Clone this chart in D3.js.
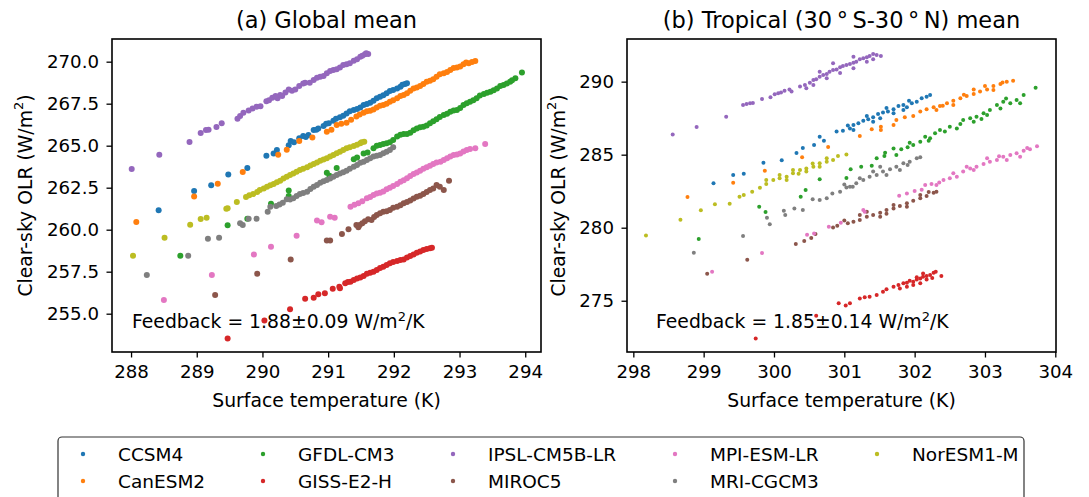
<!DOCTYPE html>
<html><head><meta charset="utf-8">
<script src="https://cdn.jsdelivr.net/npm/d3@7"></script>
<style>
body{margin:0;background:#fff}
svg{display:block}
text{font-family:"DejaVu Sans",sans-serif;fill:#000}
</style>
</head><body>
<svg id="c" width="1089" height="497"></svg>
<script>
// ---------------- DATA ----------------
const models = ["CCSM4","CanESM2","GFDL-CM3","GISS-E2-H","IPSL-CM5B-LR","MIROC5","MPI-ESM-LR","MRI-CGCM3","NorESM1-M"];
const modelColors = ["#1f77b4","#ff7f0e","#2ca02c","#d62728","#9467bd","#8c564b","#e377c2","#7f7f7f","#bcbd22"];

// (a) Global mean: [surface temperature K, clear-sky OLR W/m2]
const glb_CCSM4 = [[288.42,261.15],[288.96,262.30],[289.22,262.64],[289.48,263.29],[289.77,263.67],[290.06,264.40],[290.17,264.54],[290.22,264.74],[290.40,265.02],[290.43,265.28],[290.56,265.44],[290.62,265.58],[290.70,265.63],[290.78,265.93],[290.85,266.03],[290.93,266.17],[291.01,266.33],[291.08,266.49],[291.18,266.69],[291.28,266.92],[291.39,267.12],[291.49,267.28],[291.59,267.48],[291.69,267.68],[291.79,267.92],[291.89,268.12],[291.99,268.31],[292.10,268.51],[292.17,268.67],[292.20,268.71],
 [290.48,265.20],[290.66,265.52],[290.82,265.95],[290.97,266.30],[291.12,266.60],[291.23,266.78],[291.33,267.05],[291.44,267.18],[291.54,267.42],[291.64,267.55],[291.74,267.82],[291.84,268.00],[291.94,268.25],[292.05,268.40],[292.13,268.62]];
const glb_CanESM2 = [[288.08,260.46],[288.96,261.98],[289.32,262.74],[289.70,263.43],[290.24,264.46],[290.37,264.76],[290.56,265.28],[290.76,265.48],[290.98,265.83],[291.13,266.23],[291.28,266.37],[291.43,266.73],[291.54,266.96],[291.64,267.08],[291.74,267.28],[291.84,267.42],[291.94,267.62],[292.05,267.82],[292.15,268.02],[292.25,268.27],[292.35,268.47],[292.45,268.67],[292.55,268.87],[292.65,269.11],[292.76,269.31],[292.86,269.50],[292.96,269.66],[293.06,269.84],[293.14,269.90],[293.24,270.04],
 [291.05,265.95],[291.20,266.30],[291.35,266.55],[291.48,266.85],[291.59,267.05],[291.69,267.15],[291.79,267.38],[291.89,267.50],[291.99,267.70],[292.10,267.95],[292.20,268.12],[292.30,268.40],[292.40,268.55],[292.50,268.80],[292.60,268.95],[292.70,269.25],[292.81,269.38],[292.91,269.62],[293.01,269.72],[293.10,269.95],[293.19,269.98]];
const glb_GFDL = [[288.75,258.45],[289.47,260.26],[289.77,260.65],[290.13,261.55],[290.40,262.34],[290.40,262.00],[290.98,263.39],[291.02,263.21],[291.13,263.67],[291.39,264.19],[291.44,264.29],[291.54,264.54],[291.69,264.84],[291.79,265.04],[291.89,265.14],[291.99,265.34],[292.05,265.54],[292.15,265.69],[292.25,265.77],[292.35,266.03],[292.45,266.13],[292.55,266.33],[292.65,266.57],[292.76,266.83],[292.86,267.02],[292.96,267.12],[293.06,267.42],[293.16,267.62],[293.26,267.82],[293.37,268.08],[293.47,268.21],[293.57,268.41],[293.67,268.61],[293.77,268.81],[293.85,269.01],[293.95,269.35],
 [291.60,264.60],[291.74,265.00],[291.84,265.10],[291.94,265.20],[292.10,265.65],[292.20,265.70],[292.30,265.92],[292.40,266.10],[292.50,266.20],[292.60,266.45],[292.70,266.70],[292.81,266.90],[292.91,267.10],[293.01,267.25],[293.11,267.52],[293.21,267.70],[293.31,267.98],[293.42,268.15],[293.52,268.30],[293.62,268.55],[293.72,268.70],[293.80,268.90]];
const glb_GISS = [[289.47,253.53],[290.03,254.60],[290.42,255.26],[290.65,255.89],[290.78,255.95],[290.85,256.15],[290.95,256.21],[291.07,256.49],[291.17,256.61],[291.18,256.51],[291.26,256.81],[291.34,256.90],[291.44,257.10],[291.54,257.24],[291.64,257.44],[291.74,257.60],[291.84,257.80],[291.94,258.00],[292.05,258.13],[292.15,258.23],[292.25,258.43],[292.35,258.63],[292.45,258.79],[292.55,258.89],
 [291.49,257.15],[291.59,257.38],[291.69,257.50],[291.79,257.72],[291.89,257.90],[291.99,258.08],[292.10,258.20],[292.20,258.35],[292.30,258.52],[292.40,258.70],[292.50,258.85],[292.58,258.92],[291.39,257.00],[291.30,256.88]];
const glb_IPSL = [[288.01,263.61],[288.43,264.46],[288.89,265.22],[289.06,265.75],[289.14,265.93],[289.18,265.95],[289.30,266.11],[289.38,266.33],[289.62,266.61],[289.66,266.77],[289.71,266.96],[289.79,267.10],[289.85,267.22],[289.91,267.32],[289.97,267.34],[290.06,267.64],[290.15,267.86],[290.23,267.82],[290.27,268.02],[290.35,268.17],[290.45,268.27],[290.56,268.55],[290.65,268.75],[290.78,268.91],[290.88,269.11],[290.98,269.31],[291.08,269.50],[291.18,269.66],[291.28,269.84],[291.39,270.06],[291.49,270.30],[291.56,270.44],[291.61,270.46],
 [290.30,267.95],[290.40,268.35],[290.50,268.35],[290.62,268.70],[290.72,268.75],[290.83,269.05],[290.93,269.15],[291.03,269.45],[291.13,269.55],[291.23,269.80],[291.33,269.90],[291.44,270.15],[291.52,270.35],[291.58,270.50],[290.10,267.70],[290.20,267.95]];
const glb_MIROC5 = [[289.28,256.11],[289.92,257.38],[290.43,258.23],[290.98,259.35],[291.03,259.35],[291.21,259.74],[291.31,260.02],[291.43,260.28],[291.48,260.28],[291.46,260.14],[291.61,260.62],[291.66,260.58],[291.74,260.87],[291.84,261.07],[291.94,261.17],[292.05,261.37],[292.15,261.57],[292.25,261.73],[292.35,261.96],[292.45,262.12],[292.55,262.36],[292.65,262.66],[292.76,262.36],[292.84,262.92],
 [291.70,260.75],[291.79,260.98],[291.89,261.10],[291.99,261.30],[292.10,261.45],[292.20,261.65],[292.30,261.85],[292.40,262.02],[292.50,262.25],[292.60,262.45],[292.70,262.55],[291.56,260.50],[291.52,260.38]];
const glb_MPI = [[288.50,255.81],[289.23,257.30],[289.87,258.53],[290.13,258.99],[290.52,259.64],[290.83,260.54],[290.90,260.44],[291.03,260.77],[291.10,260.71],[291.34,261.37],[291.46,261.57],[291.59,261.87],[291.69,262.06],[291.79,262.20],[291.89,262.40],[291.99,262.60],[292.10,262.86],[292.20,263.06],[292.30,263.31],[292.40,263.51],[292.50,263.71],[292.60,263.91],[292.71,264.05],[292.81,264.25],[292.91,264.44],[293.01,264.54],[293.11,264.74],[293.24,264.84],[293.39,265.10],
 [291.40,261.48],[291.52,261.70],[291.64,261.95],[291.74,262.15],[291.84,262.28],[291.94,262.50],[292.05,262.72],[292.15,262.95],[292.25,263.20],[292.35,263.40],[292.45,263.62],[292.55,263.80],[292.65,264.00],[292.76,264.15],[292.86,264.35],[292.96,264.48],[293.06,264.65],[293.16,264.80]];
const glb_MRI = [[288.24,257.30],[288.87,258.45],[289.17,259.46],[289.34,259.52],[289.66,260.38],[289.70,260.28],[289.79,260.65],[289.91,260.65],[290.08,261.07],[290.12,261.37],[290.21,261.41],[290.31,261.61],[290.37,261.81],[290.47,261.87],[290.57,262.12],[290.68,262.26],[290.78,262.56],[290.88,262.80],[290.98,262.96],[291.08,263.15],[291.18,263.35],[291.28,263.51],[291.39,263.75],[291.49,263.99],[291.59,264.15],[291.69,264.35],[291.79,264.44],[291.89,264.64],[291.99,264.90],
 [290.52,262.00],[290.62,262.18],[290.73,262.42],[290.83,262.66],[290.93,262.88],[291.03,263.05],[291.13,263.25],[291.23,263.42],[291.33,263.62],[291.44,263.85],[291.54,264.05],[291.64,264.25],[291.74,264.40],[291.84,264.55],[291.94,264.75],[290.42,261.80],[290.26,261.50]];
const glb_NorESM = [[288.03,258.45],[288.51,259.52],[288.90,260.30],[289.06,260.63],[289.15,260.71],[289.45,261.25],[289.47,261.27],[289.61,261.65],[289.75,261.94],[289.86,262.12],[289.96,262.36],[290.07,262.56],[290.17,262.72],[290.27,262.92],[290.37,263.15],[290.47,263.35],[290.57,263.55],[290.68,263.71],[290.78,263.91],[290.88,264.11],[290.98,264.25],[291.08,264.44],[291.18,264.64],[291.28,264.84],[291.39,264.98],[291.49,265.14],[291.55,265.24],
 [290.02,262.45],[290.12,262.65],[290.22,262.82],[290.32,263.05],[290.42,263.25],[290.52,263.45],[290.62,263.62],[290.73,263.82],[290.83,264.00],[290.93,264.18],[291.03,264.35],[291.13,264.55],[291.23,264.75],[291.33,264.90],[291.44,265.05],[291.51,265.20],[289.92,262.25],[289.80,262.05]];

// (b) Tropical (30S-30N) mean
const trp_CCSM4 = [[299.14,283.04],[299.42,283.61],[299.57,283.70],[299.85,284.45],[300.11,284.61],[300.32,285.11],[300.41,285.46],[300.57,285.66],[300.65,286.23],[300.71,285.96],[300.89,286.58],[300.98,286.64],[301.08,286.80],[301.13,287.03],[301.20,287.15],[301.27,287.33],[301.34,287.42],[301.41,287.56],[301.48,287.79],[301.55,287.88],[301.62,287.95],[301.70,288.11],[301.77,288.33],[301.84,288.40],[301.89,288.24],[301.96,288.52],[302.03,288.63],[302.10,288.86],[302.17,288.97],[302.22,289.09],
 [301.13,286.69],[301.32,287.65],[301.51,287.49],[301.70,287.83],[301.41,287.26],[301.84,288.06],[301.05,287.00],[301.60,288.20],[301.92,288.70]];
const trp_CanESM2 = [[298.77,282.10],[299.42,283.08],[299.87,283.90],[300.40,284.82],[300.77,285.53],[301.22,286.28],[301.39,286.74],[301.52,286.92],[301.52,286.69],[301.70,287.03],[301.74,287.37],[301.86,287.56],[301.98,287.65],[302.08,287.95],[302.17,288.11],[302.27,288.24],[302.36,288.33],[302.46,288.52],[302.55,288.70],[302.65,288.86],[302.74,289.02],[302.84,289.16],[302.93,289.32],[303.03,289.47],[303.12,289.70],[303.22,289.84],[303.31,290.00],[303.40,290.07],
 [302.55,288.40],[302.84,289.47],[303.12,289.43],[302.31,288.06],[302.70,289.10],[303.00,289.70],[303.25,289.95],[302.40,288.35]];
const trp_GFDL = [[298.93,279.22],[299.79,281.44],[299.88,281.07],[300.38,282.12],[300.45,282.58],[300.65,283.31],[301.03,283.40],[301.09,284.00],[301.24,284.18],[301.39,284.25],[301.46,284.75],[301.57,284.91],[301.58,285.14],[301.70,285.43],[301.74,284.98],[301.81,285.37],[301.93,285.82],[301.98,285.66],[302.08,285.89],[302.15,286.23],[302.22,286.12],[302.29,286.46],[302.36,286.69],[302.43,286.58],[302.50,286.92],[302.60,286.80],[302.69,287.37],[302.79,287.49],[302.88,287.60],[302.98,287.83],[303.07,288.06],[303.17,288.40],[303.26,288.63],[303.36,288.52],[303.45,288.74],[303.55,289.09],[303.72,289.59],
 [303.03,287.72],[303.22,288.17],[302.84,287.26],[303.50,288.52],[302.65,287.10],[302.95,287.45],[303.30,288.85],[301.90,285.50],[302.20,285.95]];
const trp_GISS = [[299.74,272.42],[300.60,273.97],[300.92,274.82],[301.02,274.68],[301.08,274.82],[301.22,275.16],[301.29,275.23],[301.36,275.27],[301.46,275.39],[301.55,275.62],[301.60,275.78],[301.70,275.96],[301.77,276.07],[301.84,276.19],[301.89,276.23],[301.93,276.37],[301.98,276.30],[302.03,276.46],[302.08,276.53],[302.12,276.64],[302.17,276.69],[302.22,276.76],[302.27,276.92],[302.30,276.99],[302.38,276.69],
 [301.89,275.96],[301.98,276.07],[302.08,276.19],[302.17,276.46],[301.79,275.84],[302.12,276.87],[302.03,276.60],[302.25,276.55]];
const trp_IPSL = [[298.56,286.39],[298.90,286.89],[299.32,287.60],[299.56,288.40],[299.61,288.47],[299.66,288.52],[299.70,288.54],[299.83,288.81],[299.95,288.93],[300.01,289.13],[300.06,289.20],[300.10,289.25],[300.15,289.38],[300.22,289.47],[300.25,289.32],[300.37,289.66],[300.44,289.77],[300.46,289.54],[300.51,289.93],[300.56,290.11],[300.60,290.16],[300.65,290.34],[300.70,290.46],[300.75,290.53],[300.79,290.68],[300.84,290.80],[300.89,290.84],[300.94,290.98],[300.98,291.07],[301.03,291.14],[301.08,291.21],[301.13,291.30],[301.17,291.37],[301.22,291.53],[301.27,291.60],[301.32,291.67],[301.36,291.76],[301.41,291.89],[301.46,291.83],[301.52,291.76],
 [300.65,290.68],[300.75,290.23],[300.94,290.59],[301.13,290.91],[301.32,291.37],[300.56,289.77],[300.84,291.26],[301.13,291.71],[301.41,291.53]];
const trp_MIROC5 = [[299.05,276.85],[299.62,277.81],[300.31,278.88],[300.43,279.09],[300.53,279.29],[300.59,279.57],[300.84,280.02],[300.90,280.14],[301.05,280.30],[301.13,280.41],[301.22,280.53],[301.32,280.75],[301.41,280.87],[301.51,281.03],[301.60,281.21],[301.70,281.32],[301.79,281.48],[301.89,281.67],[301.98,281.85],[302.08,282.01],[302.17,282.17],[302.27,282.40],[302.31,282.47],
 [301.32,281.10],[301.51,280.75],[301.70,281.55],[301.89,281.44],[302.08,282.24],[301.22,280.87],[301.00,280.50],[301.60,280.95],[302.20,282.45]];
const trp_MPI = [[299.12,276.99],[299.83,278.26],[300.47,279.52],[300.57,279.61],[300.78,280.07],[300.95,280.34],[301.29,281.10],[301.78,282.19],[301.89,282.35],[302.00,282.51],[302.15,282.92],[302.24,282.99],[302.31,282.92],[302.41,283.26],[302.50,283.38],[302.60,283.49],[302.69,283.84],[302.79,284.06],[302.88,284.18],[302.98,284.36],[303.07,284.52],[303.17,284.63],[303.26,284.86],[303.36,284.98],[303.45,285.09],[303.55,285.27],[303.64,285.37],[303.74,285.57],
 [302.55,283.72],[302.74,284.18],[303.03,284.75],[303.31,284.63],[303.50,284.86],[302.84,283.95],[301.27,281.21],[302.10,282.60],[302.35,283.10],[303.20,284.90],[303.60,285.45]];
const trp_MRI = [[298.86,278.29],[299.56,279.43],[299.94,280.23],[299.90,280.68],[300.14,281.16],[300.16,280.87],[300.29,281.32],[300.41,281.21],[300.55,281.94],[300.65,281.89],[300.75,282.01],[300.83,282.35],[300.94,282.47],[301.03,282.76],[301.08,282.81],[301.17,283.04],[301.27,283.26],[301.36,283.49],[301.46,283.61],[301.55,283.84],[301.65,284.00],[301.74,284.18],[301.84,284.41],[301.93,284.52],[302.03,284.75],[302.08,284.82],
 [301.41,283.84],[301.60,283.61],[301.79,283.95],[301.22,283.38],[301.51,284.18],[301.00,282.95],[301.90,284.30],[301.12,282.80]];
const trp_NorESM = [[298.18,279.47],[298.67,280.55],[298.96,281.19],[299.16,281.60],[299.37,281.64],[299.51,282.12],[299.57,282.24],[299.69,282.47],[299.80,282.74],[299.89,282.99],[299.99,283.26],[300.08,283.38],[300.18,283.49],[300.27,283.72],[300.37,283.95],[300.46,284.06],[300.56,284.18],[300.65,284.41],[300.75,284.52],[300.84,284.63],[300.91,284.91],[301.03,285.02],
 [300.08,283.61],[300.27,283.95],[300.46,283.84],[300.65,284.18],[300.75,284.75],[300.18,283.26],[299.89,283.26],[300.55,284.40],[300.35,283.70]];

const globalSeries = [glb_CCSM4, glb_CanESM2, glb_GFDL, glb_GISS, glb_IPSL, glb_MIROC5, glb_MPI, glb_MRI, glb_NorESM];
const tropicalSeries = [trp_CCSM4, trp_CanESM2, trp_GFDL, trp_GISS, trp_IPSL, trp_MIROC5, trp_MPI, trp_MRI, trp_NorESM];

const xTicksGlobal = [288,289,290,291,292,293,294];
const yTicksGlobal = [255,257.5,260,262.5,265,267.5,270];
const xTicksTropical = [298,299,300,301,302,303,304];
const yTicksTropical = [275,280,285,290];

const titleGlobal = "(a) Global mean";
const titleTropical = "(b) Tropical (30\u2009°\u2009S-30\u2009°\u2009N) mean";
const feedbackGlobal = "1.88±0.09";
const feedbackTropical = "1.85±0.14";
const xLabel = "Surface temperature (K)";

// ---------------- DRAW ----------------
const svg = d3.select("#c");
svg.append("rect").attr("width",1089).attr("height",497).attr("fill","#fff");

function panel(cfg){
  const g = svg.append("g");
  const x = d3.scaleLinear().domain(cfg.xDomain).range([cfg.left, cfg.right]);
  const y = d3.scaleLinear().domain(cfg.yDomain).range([cfg.bottom, cfg.top]);

  cfg.series.forEach((pts,i)=>{
    g.append("g").selectAll("circle").data(pts).join("circle")
      .attr("cx",d=>x(d[0])).attr("cy",d=>y(d[1])).attr("r",cfg.r)
      .attr("fill",modelColors[i]);
  });

  // feedback text
  const ft = g.append("text").attr("x",cfg.fbX).attr("y",328).attr("font-size",18.8);
  ft.append("tspan").text("Feedback = "+cfg.feedback+" W/m");
  ft.append("tspan").attr("font-size",13).attr("dy",-7.5).text("2");
  ft.append("tspan").attr("dy",7.5).text("/K");

  // frame
  g.append("rect").attr("x",cfg.left).attr("y",cfg.top)
    .attr("width",cfg.right-cfg.left).attr("height",cfg.bottom-cfg.top)
    .attr("fill","none").attr("stroke","#000").attr("stroke-width",1.6);

  const xa = g.append("g").attr("transform",`translate(0,${cfg.bottom})`)
    .call(d3.axisBottom(x).tickValues(cfg.xTicks).tickFormat(d3.format("d")).tickSize(5.5).tickPadding(8));
  const ya = g.append("g").attr("transform",`translate(${cfg.left},0)`)
    .call(d3.axisLeft(y).tickValues(cfg.yTicks).tickFormat(cfg.yFmt).tickSize(5.5).tickPadding(7.5));
  [xa,ya].forEach(a=>{
    a.select(".domain").remove();
    a.selectAll(".tick line").attr("stroke","#000").attr("stroke-width",1.3);
    a.selectAll(".tick text").attr("font-size",18.2).attr("font-family","DejaVu Sans").attr("fill","#000");
  });

  // title
  g.append("text").attr("x",(cfg.left+cfg.right)/2).attr("y",27.5).attr("text-anchor","middle")
    .attr("font-size",22.5).text(cfg.title);
  // x label
  g.append("text").attr("x",(cfg.left+cfg.right)/2).attr("y",407).attr("text-anchor","middle")
    .attr("font-size",18.8).text(xLabel);
  // y label
  const yl = g.append("text").attr("transform",`translate(${cfg.ylabelX},${(cfg.top+cfg.bottom)/2}) rotate(-90)`)
    .attr("text-anchor","middle").attr("dominant-baseline","central").attr("font-size",18.8);
  yl.append("tspan").text("Clear-sky OLR (W/m");
  yl.append("tspan").attr("font-size",13).attr("dy",-7).text("2");
  yl.append("tspan").attr("dy",7).text(")");
}

panel({left:112,right:541,top:39,bottom:352,xDomain:[287.71,294.24],yDomain:[252.72,271.35],
  series:globalSeries,r:3,xTicks:xTicksGlobal,yTicks:yTicksGlobal,yFmt:d3.format(".1f"),
  title:titleGlobal,feedback:feedbackGlobal,ylabelX:25,fbX:132});
panel({left:627,right:1056,top:39,bottom:352,xDomain:[297.91,304.01],yDomain:[271.49,292.92],
  series:tropicalSeries,r:2,xTicks:xTicksTropical,yTicks:yTicksTropical,yFmt:d3.format("d"),
  title:titleTropical,feedback:feedbackTropical,ylabelX:558,fbX:656});

// legend
const lg = svg.append("g");
lg.append("rect").attr("x",58).attr("y",437).attr("width",966).attr("height",80).attr("rx",4)
  .attr("fill","#fff").attr("stroke","#333").attr("stroke-width",1.2);
const legMarkerX = [83,263,453,675,877];
const legRowY = [454,481];
models.forEach((m,i)=>{
  const col = Math.floor(i/2), row = i%2;
  lg.append("circle").attr("cx",legMarkerX[col]).attr("cy",legRowY[row]).attr("r",2.2).attr("fill",modelColors[i]);
  lg.append("text").attr("x",legMarkerX[col]+35).attr("y",legRowY[row]).attr("dominant-baseline","central")
    .attr("font-size",18.5).text(m);
});
</script>
</body></html>
